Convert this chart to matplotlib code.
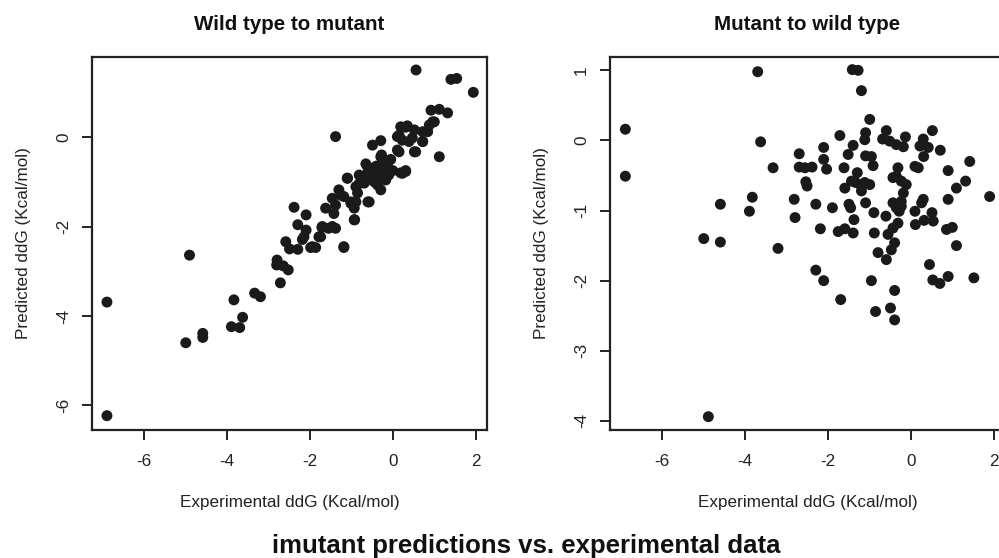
import matplotlib
matplotlib.use("Agg")
import matplotlib.pyplot as plt

plt.rcParams['font.family'] = ['Liberation Sans', 'DejaVu Sans']

# ---- Data: Wild type to mutant ----
wt_exp = [-6.89, -6.89, -4.90, -4.99, -4.58, -4.58, -3.83, -3.89, -3.69, -3.62,
          -3.33, -3.19, -2.71, -2.79, -2.80, -2.64, -2.52, -2.58, -2.49, -2.29,
          -2.38, -2.29, -2.09, -2.09, -2.18, -1.98, -1.86, -1.74, -1.71, -1.55,
          -1.38, -1.18, -1.38, -1.78, -1.94, -1.18, -0.93, -2.14, -1.46, -1.70,
          -1.62, -1.38, -1.42, -1.46, -1.30, -1.18, -1.01, -0.93, -0.57, -1.09,
          -0.89, -0.81, -0.69, -0.37, -0.29, -0.49, -0.61, -0.53, -0.17, -0.41,
          -0.25, -0.29, -0.49, -0.29, 0.19, 0.35, 0.11, 0.15, 0.47, 0.55,
          0.72, 0.84, 0.96, 0.92, 1.12, 1.32, 1.12, 0.19, 0.31, -1.10,
          -1.01, -0.89, -0.92, -0.81, -0.60, -0.61, -0.37, -0.21, -0.45, -0.13,
          -0.27, -0.17, 0.23, 0.31, 0.11, 0.15, 0.31, 0.52, 0.72, 0.72,
          0.52, 0.39, 0.23, 1.00, 0.88, 0.56, 1.40, 1.54, 1.94, -0.70,
          -0.55, -0.40, -0.33, -0.75, -0.65, -0.45, -0.20, -1.25, -0.85, -0.05,
          0.00, -0.10]
wt_pred = [-3.69, -6.23, -2.64, -4.60, -4.39, -4.48, -3.64, -4.24, -4.26, -4.03,
           -3.49, -3.57, -3.26, -2.75, -2.86, -2.88, -2.97, -2.34, -2.50, -2.51,
           -1.57, -1.96, -1.74, -2.08, -2.29, -2.47, -2.47, -2.23, -2.02, -2.04,
           -2.04, -2.47, 0.01, -2.23, -2.45, -2.45, -1.85, -2.23, -2.00, -2.00,
           -1.59, -1.52, -1.71, -1.37, -1.18, -1.33, -1.45, -1.59, -1.45, -0.92,
           -1.11, -0.85, -1.03, -1.07, -1.18, -0.96, -0.81, -0.70, -0.81, -0.74,
           -0.59, -0.44, -0.18, -0.08, 0.23, 0.25, 0.01, -0.33, -0.02, -0.33,
           -0.10, 0.12, 0.34, 0.60, 0.62, 0.54, -0.44, -0.80, -0.75, -0.92,
           -1.48, -1.45, -1.85, -1.04, -1.45, -0.66, -0.89, -0.81, -0.74, -0.59,
           -0.40, -0.96, -0.81, -0.77, -0.29, 0.04, 0.22, 0.16, 0.12, -0.10,
           -0.33, -0.10, -0.07, 0.34, 0.27, 1.50, 1.29, 1.31, 1.00, -0.90,
           -0.80, -0.65, -0.90, -1.00, -0.60, -1.00, -0.70, -1.30, -1.25, -0.50,
           -0.75, -0.85]

# ---- Data: Mutant to wild type ----
mw_exp = [-6.88, -6.88, -3.69, -3.62, -4.99, -4.59, -4.59, -4.88, -3.89, -3.82,
          -3.32, -3.20, -2.81, -2.79, -2.69, -2.69, -2.55, -2.38, -2.53, -2.50,
          -2.29, -2.29, -2.10, -2.18, -2.10, -2.10, -2.03, -1.89, -1.71, -1.69,
          -1.75, -1.59, -1.61, -1.59, -1.51, -1.39, -1.49, -1.45, -1.37, -1.39,
          -1.41, -1.27, -1.19, -1.43, -1.29, -1.33, -1.19, -1.19, -1.11, -0.99,
          -1.09, -0.99, -1.09, -1.11, -1.09, -0.95, -0.91, -0.89, -0.88, -0.79,
          -0.95, -0.85, -0.68, -0.59, -0.51, -0.35, -0.18, -0.13, -0.60, -0.55,
          -0.59, -0.47, -0.39, -0.49, -0.39, -0.39, -0.43, -0.31, -0.35, -0.23,
          -0.11, -0.18, -0.23, -0.43, -0.35, -0.28, -0.23, -0.31, -0.43, 0.10,
          0.18, 0.22, 0.30, 0.42, 0.31, 0.52, 0.71, 0.30, 0.26, 0.10,
          0.11, 0.32, 0.51, 0.54, 0.45, 0.53, 0.70, 0.90, 0.90, 0.90,
          0.86, 1.00, 1.10, 1.10, 1.32, 1.42, 1.52, 1.90]
mw_pred = [0.16, -0.51, 0.98, -0.02, -1.40, -0.91, -1.45, -3.94, -1.01, -0.81,
           -0.39, -1.54, -0.84, -1.10, -0.19, -0.38, -0.39, -0.38, -0.59, -0.65,
           -0.91, -1.85, -2.00, -1.26, -0.10, -0.27, -0.41, -0.96, 0.07, -2.27,
           -1.30, -1.26, -0.39, -0.68, -0.20, -0.07, -0.91, -0.96, -1.13, -1.32,
           1.01, 1.00, 0.71, -0.58, -0.46, -0.60, -0.65, -0.72, -0.60, -0.63,
           -0.89, 0.30, 0.11, 0.01, -0.22, -0.23, -0.36, -1.03, -1.32, -1.60,
           -2.00, -2.44, 0.02, 0.14, -0.01, -0.06, -0.09, 0.05, -1.08, -1.34,
           -1.70, -1.56, -1.46, -2.39, -2.14, -2.56, -0.53, -0.39, -0.51, -0.58,
           -0.63, -0.75, -0.87, -0.89, -0.96, -1.01, -0.94, -1.18, -1.25, -0.37,
           -0.39, -0.08, 0.02, -0.10, -0.23, 0.14, -0.14, -0.84, -0.89, -1.01,
           -1.20, -1.14, -1.03, -1.15, -1.77, -1.99, -2.04, -1.94, -0.43, -0.84,
           -1.27, -1.24, -1.50, -0.68, -0.58, -0.30, -1.96, -0.80]

x_ticks = [-6, -4, -2, 0, 2]
wt_yticks = [-6, -4, -2, 0]
mw_yticks = [-4, -3, -2, -1, 0, 1]

titles = ["Wild type to mutant", "Mutant to wild type"]
xlabel = "Experimental ddG (Kcal/mol)"
ylabel = "Predicted ddG (Kcal/mol)"
suptitle = "imutant predictions vs. experimental data"

W, H = 999, 558
fig = plt.figure(figsize=(W / 100, H / 100), dpi=100)

ax1 = fig.add_axes([92 / W, 1 - 430 / H, 395 / W, 373 / H])
ax2 = fig.add_axes([610 / W, 1 - 430 / H, 395 / W, 373 / H])

pt_color = "#1a1a1a"
txt_color = "#222222"
fs = 12.3
panels = [(ax1, wt_exp, wt_pred, wt_yticks, (-6.55, 1.79)),
          (ax2, mw_exp, mw_pred, mw_yticks, (-4.13, 1.19))]

for i, (ax, xs, ys, yt, ylim) in enumerate(panels):
    ax.scatter(xs, ys, s=62, color=pt_color, edgecolors='none', zorder=3)
    ax.set_xlim(-7.25, 2.27)
    ax.set_ylim(*ylim)
    ax.set_xticks(x_ticks)
    ax.set_xticklabels([str(t) for t in x_ticks])
    ax.set_yticks(yt)
    ax.set_yticklabels([str(t) for t in yt], rotation=90, va='center')
    for sp in ax.spines.values():
        sp.set_linewidth(1.6)
        sp.set_color(txt_color)
    ax.tick_params(direction='out', length=7, width=1.4, color=txt_color,
                   labelsize=fs, labelcolor=txt_color)
    ax.tick_params(axis='x', pad=10)
    ax.tick_params(axis='y', pad=8)
    ax.set_xlabel(xlabel, fontsize=fs, labelpad=19, color=txt_color)
    ax.set_ylabel(ylabel, fontsize=fs, labelpad=18, color=txt_color)
    # panel title centred over the plot region
    bb = ax.get_position()
    fig.text((bb.x0 + bb.x1) / 2, 1 - 25 / H, titles[i], ha='center',
             va='center', fontsize=14.8, fontweight='bold', color="#111111")

fig.text(526 / W, 1 - 553 / H, suptitle, ha='center', va='baseline',
         fontsize=18.5, fontweight='bold', color="#111111")

fig.savefig("out.png", dpi=100, facecolor='white')
